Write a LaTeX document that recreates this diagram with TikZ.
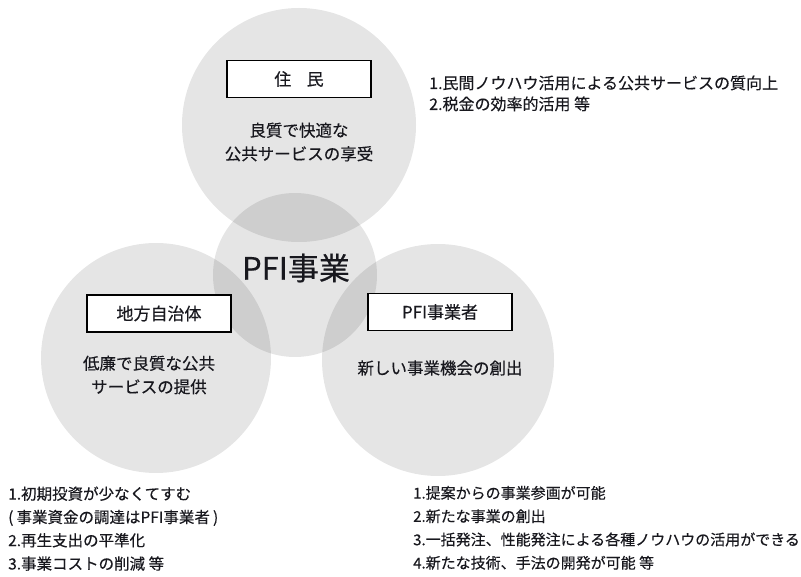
\documentclass[tikz,border=0pt]{standalone}
\usepackage{fontspec}
\setmainfont[FakeBold=0.35]{Noto Sans CJK JP}
\definecolor{ink}{HTML}{18181E}
\begin{document}
\begin{tikzpicture}[x=1pt,y=-1pt,
  circ/.style={circle, fill=black, fill opacity=0.1, draw=none, inner sep=0pt, minimum size=#1},
  lbl/.style={draw=black, line width=1.1pt, fill=white, minimum width=144pt, minimum height=37pt, inner sep=0pt, text=ink, font=\fontsize{17}{20}\selectfont},
  body/.style={text=ink, align=center, inner sep=0pt, font=\fontsize{16.5}{23.5}\selectfont},
  lst/.style={text=ink, align=left, inner sep=0pt, anchor=base west}]
\useasboundingbox (0,0) rectangle (801,577);
% circles
\node[circ=234pt] (cjumin) at (299,125) {};
\node[circ=164pt] (cpfi) at (295,275) {};
\node[circ=230pt] (cchiho) at (156,358) {};
\node[circ=232pt] (cjigyo) at (438,360) {};
% centre title
\node[text=ink, inner sep=0pt, font=\fontsize{31}{36}\selectfont] (title) at (296,268) {PFI事業};
% boxes
\node[lbl] (bjumin) at (299,79) {住\hspace{0.9em}民};
\node[lbl] (bchiho) at (159,313.5) {地方自治体};
\node[lbl] (bjigyo) at (440,312) {PFI事業者};
% circle texts
\node[body] (tjumin) at (299,142) {良質で快適な\\公共サービスの享受};
\node[body] (tchiho) at (149,375) {低廉で良質な公共\\サービスの提供};
\node[body] (tjigyo) at (440,368) {新しい事業機会の創出};
% lists (base anchor = baseline of last line)
\node[lst, font=\fontsize{16}{21}\selectfont] (ljumin) at (429,110) {1.民間ノウハウ活用による公共サービスの質向上\\2.税金の効率的活用 等};
\node[lst, font=\fontsize{15.5}{23.3}\selectfont] (lchiho) at (8,569.5) {1.初期投資が少なくてすむ\\(\hspace{0.2em}事業資金の調達はPFI事業者\hspace{0.2em})\\2.再生支出の平準化\\3.事業コストの削減 等};
\node[lst, font=\fontsize{15}{23.3}\selectfont] (ljigyo) at (413,568.5) {1.提案からの事業参画が可能\\2.新たな事業の創出\\3.一括発注、性能発注による各種ノウハウの活用ができる\\4.新たな技術、手法の開発が可能 等};
\end{tikzpicture}
\end{document}
